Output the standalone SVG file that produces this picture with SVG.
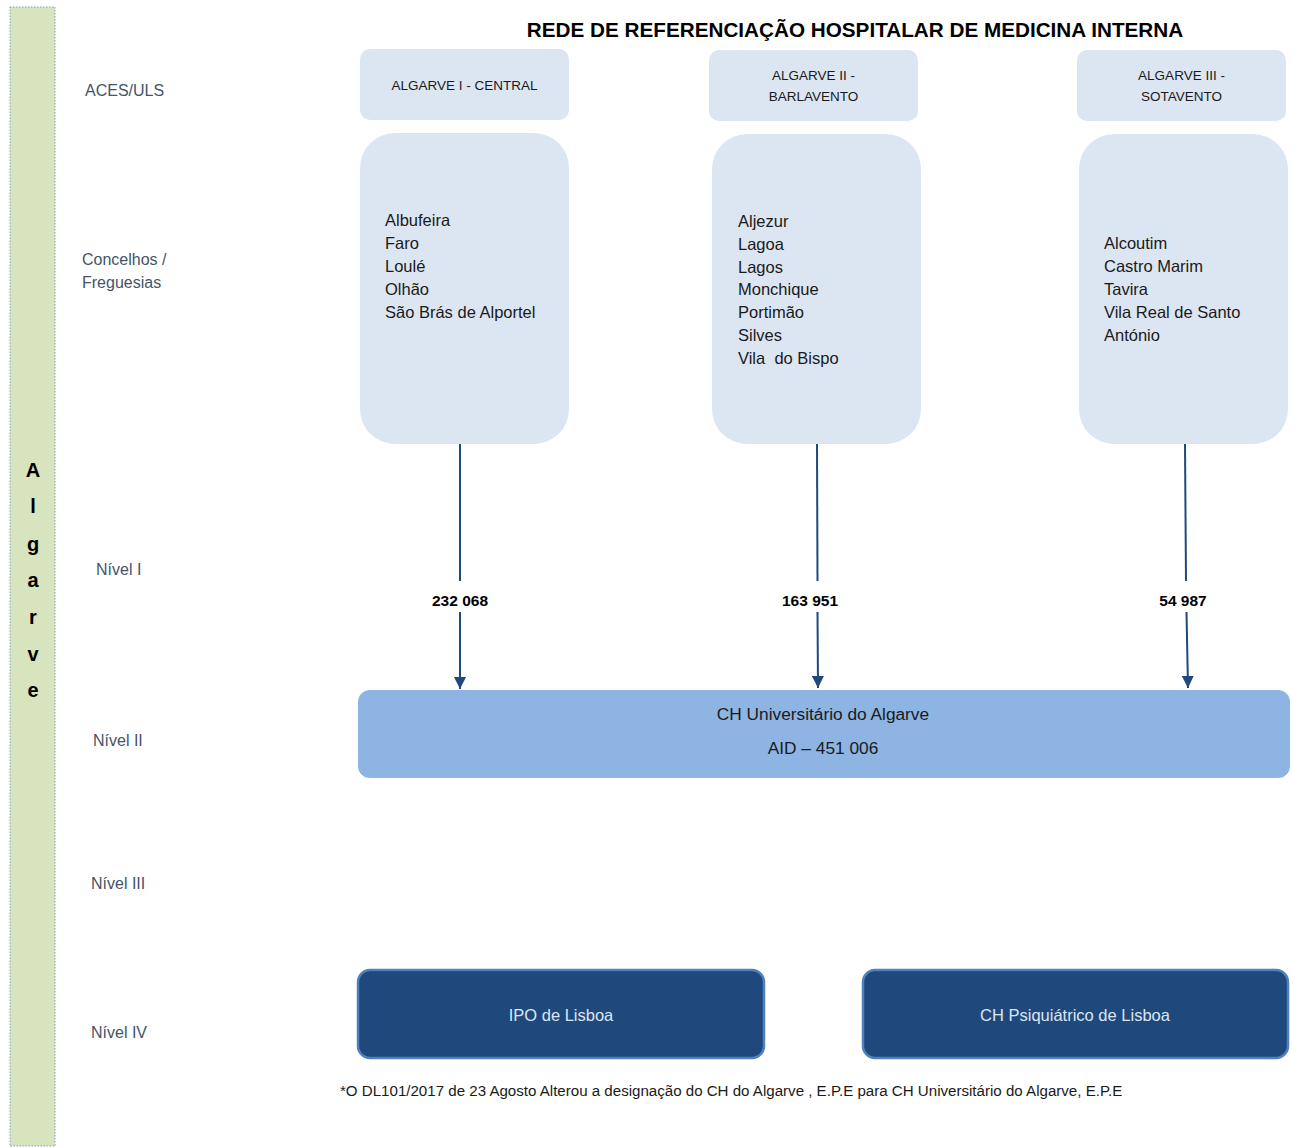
<svg xmlns="http://www.w3.org/2000/svg" width="1293" height="1148" viewBox="0 0 1293 1148">
<defs>
<style>
text{font-family:"Liberation Sans","Noto Sans",sans-serif;}
.lbl{font-size:16px;fill:#44546a;}
.hdr{font-size:13.5px;fill:#1a1a1a;text-anchor:middle;}
.lst{font-size:16.5px;fill:#1a1a1a;}
.num{font-size:15.5px;font-weight:bold;fill:#000;text-anchor:middle;}
.lt{fill:#dce6f2;}
.conn{stroke:#1f497d;stroke-width:2;fill:none;}
.dark{fill:#1f497d;stroke:#4f81bd;stroke-width:2.5;}
.wt{font-size:16.5px;fill:#dce6f2;text-anchor:middle;}
.alg{font-size:20px;font-weight:bold;fill:#000;text-anchor:middle;}
</style>
<marker id="ah" viewBox="0 0 10 10" refX="10" refY="5" markerWidth="12" markerHeight="12" markerUnits="userSpaceOnUse" orient="auto">
<path d="M0,0 L10,5 L0,10 z" fill="#1f497d"/>
</marker>
</defs>
<rect width="1293" height="1148" fill="#fff"/>
<g id="algarve-bar">
<rect x="10" y="7" width="45" height="1139" fill="#d7e4bd" stroke="#7f9fcf" stroke-width="1" stroke-dasharray="1.5 1.5"/>
<text class="alg" x="33" y="477">A</text>
<text class="alg" x="33" y="513">l</text>
<text class="alg" x="33" y="551">g</text>
<text class="alg" x="33" y="587">a</text>
<text class="alg" x="33" y="624">r</text>
<text class="alg" x="33" y="661">v</text>
<text class="alg" x="33" y="697">e</text>
</g>
<g id="title"><text x="855" y="37" font-size="20.7" font-weight="bold" fill="#000" text-anchor="middle">REDE DE REFERENCIAÇÃO HOSPITALAR DE MEDICINA INTERNA</text></g>
<g id="row-labels">
<text class="lbl" x="85" y="96">ACES/ULS</text>
<text class="lbl" x="82" y="265">Concelhos /</text>
<text class="lbl" x="82" y="288">Freguesias</text>
<text class="lbl" x="96" y="575">Nível I</text>
<text class="lbl" x="93" y="746">Nível II</text>
<text class="lbl" x="91" y="889">Nível III</text>
<text class="lbl" x="91" y="1038">Nível IV</text>
</g>
<g id="aces1"><rect class="lt" x="360" y="49" width="209" height="71" rx="10"/><text class="hdr" x="464.5" y="90">ALGARVE I - CENTRAL</text></g>
<g id="aces2"><rect class="lt" x="709" y="50" width="209" height="71" rx="10"/><text class="hdr" x="813.5" y="80">ALGARVE II -</text><text class="hdr" x="813.5" y="101">BARLAVENTO</text></g>
<g id="aces3"><rect class="lt" x="1077" y="50" width="209" height="71" rx="10"/><text class="hdr" x="1181.5" y="80">ALGARVE III -</text><text class="hdr" x="1181.5" y="101">SOTAVENTO</text></g>
<g id="conc1"><rect class="lt" x="360" y="133" width="209" height="311" rx="35"/>
<text class="lst" x="385" y="226">Albufeira</text>
<text class="lst" x="385" y="249">Faro</text>
<text class="lst" x="385" y="272">Loulé</text>
<text class="lst" x="385" y="295">Olhão</text>
<text class="lst" x="385" y="318">São Brás de Alportel</text>
</g>
<g id="conc2"><rect class="lt" x="712" y="134" width="209" height="310" rx="35"/>
<text class="lst" x="738" y="227">Aljezur</text>
<text class="lst" x="738" y="250">Lagoa</text>
<text class="lst" x="738" y="273">Lagos</text>
<text class="lst" x="738" y="295">Monchique</text>
<text class="lst" x="738" y="318">Portimão</text>
<text class="lst" x="738" y="341">Silves</text>
<text class="lst" x="738" y="364" xml:space="preserve">Vila  do Bispo</text>
</g>
<g id="conc3"><rect class="lt" x="1079" y="134" width="209" height="310" rx="35"/>
<text class="lst" x="1104" y="249">Alcoutim</text>
<text class="lst" x="1104" y="272">Castro Marim</text>
<text class="lst" x="1104" y="295">Tavira</text>
<text class="lst" x="1104" y="318">Vila Real de Santo</text>
<text class="lst" x="1104" y="341">António</text>
</g>
<g id="connectors">
<path class="conn" d="M460,444 L460,581"/>
<path class="conn" d="M460,612 L460,689" marker-end="url(#ah)"/>
<path class="conn" d="M817,444 L817.5,581"/>
<path class="conn" d="M817.5,612 L818,688" marker-end="url(#ah)"/>
<path class="conn" d="M1185,444 L1186,581"/>
<path class="conn" d="M1186.5,612 L1188,688" marker-end="url(#ah)"/>
<text class="num" x="460" y="606">232 068</text>
<text class="num" x="810" y="606">163 951</text>
<text class="num" x="1183" y="606">54 987</text>
</g>
<g id="chua"><rect x="358" y="690" width="932" height="88" rx="12" fill="#8eb4e3"/>
<text x="823" y="720" font-size="17.3" fill="#1a1a1a" text-anchor="middle">CH Universitário do Algarve</text>
<text x="823" y="754" font-size="17.3" fill="#1a1a1a" text-anchor="middle">AID –  451 006</text>
</g>
<g id="ipo"><rect class="dark" x="358" y="970" width="406" height="88" rx="12"/><text class="wt" x="561" y="1021">IPO de Lisboa</text></g>
<g id="chpl"><rect class="dark" x="863" y="970" width="425" height="88" rx="12"/><text class="wt" x="1075" y="1021">CH Psiquiátrico de Lisboa</text></g>
<g id="footnote"><text x="340" y="1096" font-size="15.1" fill="#1a1a1a">*O DL101/2017 de 23 Agosto Alterou a designação do CH do Algarve , E.P.E para CH Universitário do Algarve, E.P.E</text></g>
</svg>
